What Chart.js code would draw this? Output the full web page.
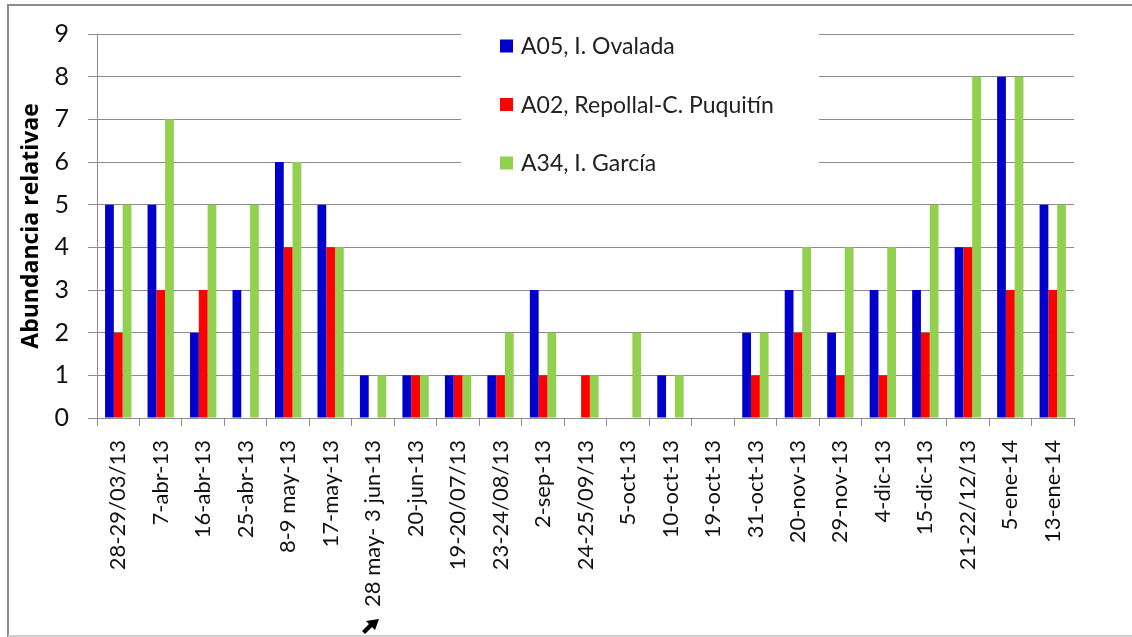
<!DOCTYPE html>
<html>
<head>
<meta charset="utf-8">
<script src="https://cdn.jsdelivr.net/npm/chart.js@4"></script>
<style>
  html, body { margin: 0; padding: 0; background: #fff; }
  #wrap { width: 1132px; height: 637px; position: relative; }
</style>
</head>
<body>
<div id="wrap"><canvas id="myChart" width="1132" height="637"></canvas></div>
<script>
// sampling dates
const labels = [
  '28-29/03/13', '7-abr-13', '16-abr-13', '25-abr-13', '8-9 may-13', '17-may-13',
  '28 may- 3 jun-13', '20-jun-13', '19-20/07/13', '23-24/08/13', '2-sep-13',
  '24-25/09/13', '5-oct-13', '10-oct-13', '19-oct-13', '31-oct-13', '20-nov-13',
  '29-nov-13', '4-dic-13', '15-dic-13', '21-22/12/13', '5-ene-14', '13-ene-14'
];

const ovalada  = [5, 5, 2, 3, 6, 5, 1, 1, 1, 1, 3, 0, 0, 1, 0, 2, 3, 2, 3, 3, 4, 8, 5];
const repollal = [2, 3, 3, 0, 4, 4, 0, 1, 1, 1, 1, 1, 0, 0, 0, 1, 2, 1, 1, 2, 4, 3, 3];
const garcia   = [5, 7, 5, 5, 6, 4, 1, 1, 1, 2, 2, 1, 2, 1, 0, 2, 4, 4, 4, 5, 8, 8, 5];

const yTicks = [0, 1, 2, 3, 4, 5, 6, 7, 8, 9];

const FONT = 'Lato, "Open Sans", sans-serif';

// legend box inside the plot + outer frame
const extras = {
  id: 'extras',
  beforeDraw(chart) {
    const ctx = chart.ctx;
    ctx.save();
    ctx.fillStyle = '#fff';
    ctx.fillRect(0, 0, chart.width, chart.height);
    ctx.restore();
  },
  afterDraw(chart) {
    const ctx = chart.ctx;
    ctx.save();
    // white legend background over gridlines
    ctx.fillStyle = '#fff';
    ctx.fillRect(461, 20, 358, 165);
    ctx.font = '23px ' + FONT;
    ctx.textBaseline = 'middle';
    chart.data.datasets.forEach((ds, i) => {
      const y = 46 + i * 58.5;
      ctx.fillStyle = ds.backgroundColor;
      ctx.fillRect(500, y - 6.5, 13, 13);
      ctx.fillStyle = '#222';
      ctx.fillText(ds.label, 521, y + 1);
    });

    // frame
    ctx.strokeStyle = '#8c8c8c';
    ctx.lineWidth = 2;
    ctx.beginPath();
    ctx.moveTo(8, 637);
    ctx.lineTo(8, 5);
    ctx.lineTo(1132, 5);
    ctx.stroke();
    ctx.strokeStyle = '#d0d0d0';
    ctx.beginPath();
    ctx.moveTo(8, 636);
    ctx.lineTo(1132, 636);
    ctx.stroke();

    // mouse pointer
    ctx.fillStyle = '#000';
    ctx.beginPath();
    ctx.moveTo(379, 619);
    ctx.lineTo(375, 630);
    ctx.lineTo(372, 627);
    ctx.lineTo(365, 634);
    ctx.lineTo(362, 631);
    ctx.lineTo(369, 624);
    ctx.lineTo(366, 621);
    ctx.closePath();
    ctx.fill();
    ctx.restore();
  }
};

const data = {
  labels: labels,
  datasets: [
    { label: 'A05, I. Ovalada', data: ovalada, backgroundColor: '#0000cc' },
    { label: 'A02, Repollal-C. Puquitín', data: repollal, backgroundColor: '#ff0000' },
    { label: 'A34, I. García', data: garcia, backgroundColor: '#92d050' }
  ]
};

const config = {
  type: 'bar',
  data: data,
  plugins: [extras],
  options: {
    responsive: false,
    animation: false,
    datasets: {
      bar: { categoryPercentage: 0.62, barPercentage: 1.0 }
    },
    layout: { padding: { top: 29, right: 58, left: 0, bottom: 0 } },
    plugins: {
      legend: { display: false },
      tooltip: { enabled: false }
    },
    scales: {
      x: {
        offset: true,
        grid: {
          offset: true,
          drawOnChartArea: false,
          drawTicks: true,
          tickLength: 8,
          color: '#8c8c8c'
        },
        border: { color: '#8c8c8c', width: 1 },
        ticks: {
          autoSkip: false,
          minRotation: 90,
          maxRotation: 90,
          padding: 14,
          color: '#111',
          font: { family: FONT, size: 22 }
        },
        afterFit(s) { s.height = 637 - 418; }
      },
      y: {
        min: 0,
        max: 9,
        afterBuildTicks(s) { s.ticks = yTicks.map(v => ({ value: v })); },
        grid: { color: '#8c8c8c', tickLength: 9, lineWidth: 1 },
        border: { color: '#8c8c8c', width: 1 },
        ticks: {
          padding: 19,
          color: '#111',
          font: { family: FONT, size: 25 }
        },
        title: {
          display: true,
          text: 'Abundancia relativae',
          color: '#000',
          padding: { top: 18, bottom: 0 },
          font: { family: '"Open Sans", sans-serif', size: 23, weight: 'bold' }
        },
        afterFit(s) { s.width = 97; }
      }
    }
  }
};

const myChart = new Chart(document.getElementById('myChart'), config);
</script>
</body>
</html>
